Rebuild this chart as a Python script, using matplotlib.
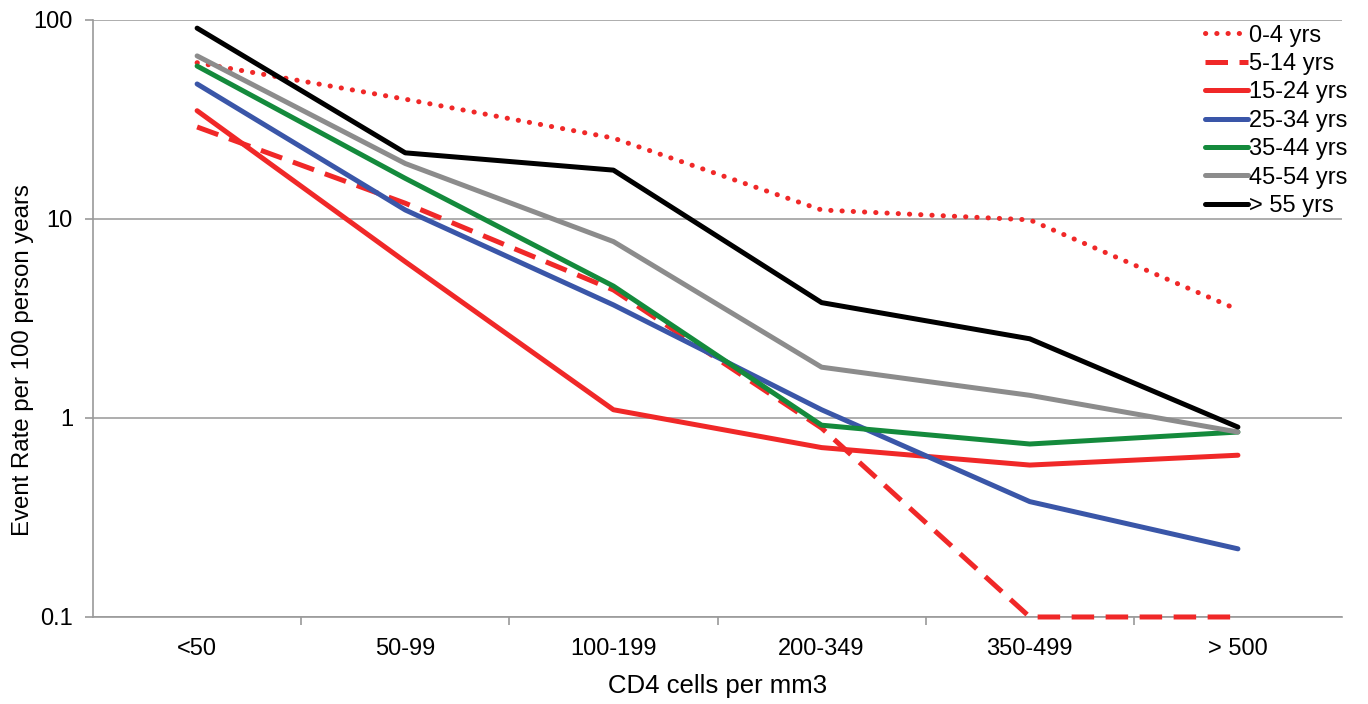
import numpy as np
import matplotlib.pyplot as plt
from matplotlib.ticker import FixedLocator, NullLocator

plt.rcParams['font.family'] = ['Liberation Sans', 'DejaVu Sans']

categories = ["<50", "50-99", "100-199", "200-349", "350-499", "> 500"]
ages = ["0-4 yrs", "5-14 yrs", "15-24 yrs", "25-34 yrs", "35-44 yrs", "45-54 yrs", "> 55 yrs"]

rate_0_4   = [61, 40, 25.5, 11.1, 9.9, 3.5]
rate_5_14  = [29, 12, 4.4, 0.89, 0.1, 0.1]
rate_15_24 = [35, 6.1, 1.1, 0.71, 0.58, 0.65]
rate_25_34 = [47.7, 11.1, 3.7, 1.1, 0.38, 0.22]
rate_35_44 = [58.7, 16, 4.6, 0.92, 0.74, 0.85]
rate_45_54 = [66, 19, 7.7, 1.8, 1.3, 0.85]
rate_55    = [91, 21.5, 17.6, 3.8, 2.5, 0.9]

series = [rate_0_4, rate_5_14, rate_15_24, rate_25_34, rate_35_44, rate_45_54, rate_55]
colors = ["#f02828", "#f02828", "#f02828", "#3a56a8", "#148a3c", "#8c8c8c", "#000000"]
styles = [(0, (0.05, 2.2)), (0, (4.5, 2.3)), "-", "-", "-", "-", "-"]
caps = ["round", "butt", "round", "round", "round", "round", "round"]

fig = plt.figure(figsize=(13.68, 7.04), dpi=100)
ax = fig.add_axes([0.068, 0.1236, 0.913, 0.848])

x = np.arange(len(categories))
for vals, lab, c, ls, cap in zip(series, ages, colors, styles, caps):
    ax.plot(x, vals, color=c, linestyle=ls, linewidth=3.6, label=lab,
            solid_capstyle=cap, dash_capstyle=cap, clip_on=False, zorder=3)

ax.set_yscale("log")
ax.set_ylim(0.1, 100)
ax.set_xlim(-0.5, len(categories) - 0.5)
ax.yaxis.set_major_locator(FixedLocator([0.1, 1, 10, 100]))
ax.yaxis.set_minor_locator(NullLocator())
ax.set_yticklabels(["0.1", "1", "10", "100"])
ax.set_xticks(x)
ax.set_xticklabels(categories)
ax.set_xticks(x[:-1] + 0.5, minor=True)
ax.tick_params(axis="x", which="major", length=0, labelsize=17, pad=15)
ax.tick_params(axis="x", which="minor", length=6, color="#9a9a9a", width=1.2)
ax.tick_params(axis="y", which="major", length=5.5, color="#9a9a9a", width=1.2, labelsize=17, pad=9)

ax.grid(axis="y", which="major", color="#a0a0a0", linewidth=1.2, zorder=0)
for s in ["top", "right"]:
    ax.spines[s].set_visible(False)
for s in ["left", "bottom"]:
    ax.spines[s].set_color("#9a9a9a")
    ax.spines[s].set_linewidth(1.2)

ax.set_xlabel("CD4 cells per mm3", fontsize=18.5, labelpad=10)
ax.set_ylabel("Event Rate per 100 person years", fontsize=17.3)
ax.yaxis.set_label_coords(-0.047, 0.43)

leg = ax.legend(loc="upper right", bbox_to_anchor=(1.008, 1.0), frameon=False, fontsize=17,
                handlelength=1.8, handletextpad=0.05, labelspacing=0.27, borderaxespad=0.0,
                borderpad=0.2)

fig.savefig("out.png", dpi=100)
